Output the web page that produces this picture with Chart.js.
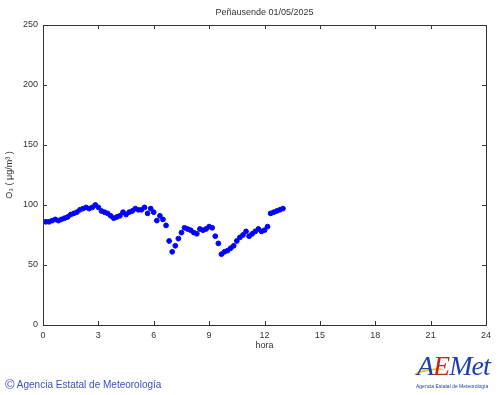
<!DOCTYPE html>
<html>
<head>
<meta charset="utf-8">
<script src="https://cdn.jsdelivr.net/npm/chart.js@4.4.1/dist/chart.umd.min.js"></script>
<style>
  html, body { margin: 0; padding: 0; background: #fff; }
  #wrap { position: relative; width: 500px; height: 395px; overflow: hidden; }
  #chart { position: absolute; left: 0; top: 0; }
  .footer {
    position: absolute; left: 5px; top: 377px;
    font: 10px "Liberation Sans", Arial, sans-serif; color: #3a4fc4;
  }
  .footer .c { font-size: 13px; vertical-align: -1px; }
  .logo { position: absolute; left: 414px; top: 350px; width: 86px; height: 45px; }
  .logo .word {
    position: absolute; left: 3px; top: 0; font: italic 28px "Liberation Serif", serif;
    letter-spacing: -1px; line-height: 32px;
  }
  .logo .a, .logo .m { color: #1f3fae; }
  .logo .e { color: #c8261d; }
  .logo .sub {
    position: absolute; left: 2px; top: 33px; font: 5px "Liberation Sans", Arial, sans-serif;
    color: #1f3fae; white-space: nowrap;
  }
  .logo .swoosh {
    position: absolute; left: 0px; top: 19px; width: 30px; height: 6px;
    border-top: 2px solid #f2c21b; border-radius: 50% 50% 0 0; transform: rotate(-10deg);
  }
</style>
</head>
<body>
<div id="wrap">
  <canvas id="chart" width="500" height="395"></canvas>
  <div class="footer"><span class="c">©</span> Agencia Estatal de Meteorología</div>
  <div class="logo">
    <div class="swoosh"></div>
    <div class="word"><span class="a">A</span><span class="e">E</span><span class="m">Met</span></div>
    <div class="sub">Agencia Estatal de Meteorología</div>
  </div>
</div>
<script>
const title = 'Peñausende 01/05/2025';
const xTitle = 'hora';
const yTitle = 'O₃ ( μg/m³ )';

// O3 every 10 minutes from 00:00 to 13:00
const o3Values = [
  86, 86, 86, 87, 88, 87, 88, 89, 90, 92, 93, 94,
  96, 97, 98, 97, 98, 100, 98, 95, 94, 93, 91, 89,
  90, 91, 94, 92, 94, 95, 97, 96, 96, 98, 93, 97,
  94, 87, 91, 88, 83, 70, 61, 66, 72, 77, 81, 80,
  79, 77, 76, 80, 79, 80, 82, 81, 74, 68, 59, 61,
  62, 64, 66, 70, 73, 75, 78, 74, 76, 78, 80, 78,
  79, 82, 93, 94, 95, 96, 97,
];
const xTicks = [0, 3, 6, 9, 12, 15, 18, 21, 24];
const yTicks = [0, 50, 100, 150, 200, 250];

const points = o3Values.map((v, i) => ({ x: i / 6, y: v }));

const FONT = '"Liberation Sans", Arial, sans-serif';
const INK = '#333';

// frame, inward ticks, title and rotated axis title
const framePlugin = {
  id: 'frame',
  afterDraw(chart) {
    const { ctx, chartArea: a, scales } = chart;
    ctx.save();
    ctx.strokeStyle = INK;
    ctx.lineWidth = 1;
    ctx.strokeRect(Math.round(a.left) + 0.5, Math.round(a.top) + 0.5,
      Math.round(a.right - a.left), Math.round(a.bottom - a.top));
    ctx.beginPath();
    xTicks.forEach((t) => {
      const px = Math.round(scales.x.getPixelForValue(t)) + 0.5;
      ctx.moveTo(px, a.bottom); ctx.lineTo(px, a.bottom - 4);
      ctx.moveTo(px, a.top); ctx.lineTo(px, a.top + 4);
    });
    yTicks.forEach((t) => {
      const py = Math.round(scales.y.getPixelForValue(t)) + 0.5;
      ctx.moveTo(a.left, py); ctx.lineTo(a.left + 4, py);
      ctx.moveTo(a.right, py); ctx.lineTo(a.right - 4, py);
    });
    ctx.stroke();

    ctx.fillStyle = INK;
    ctx.font = '9px ' + FONT;
    ctx.textAlign = 'center';
    ctx.textBaseline = 'middle';
    ctx.fillText(title, (a.left + a.right) / 2, 13);
    ctx.fillText(xTitle, (a.left + a.right) / 2, 346);
    ctx.translate(10, (a.top + a.bottom) / 2);
    ctx.rotate(-Math.PI / 2);
    ctx.fillText(yTitle, 0, 0);
    ctx.restore();
  },
};

new Chart(document.getElementById('chart'), {
  type: 'scatter',
  data: {
    datasets: [{
      data: points,
      backgroundColor: '#0000ff',
      borderColor: '#0000ff',
      pointRadius: 2.4,
      pointHoverRadius: 2.4,
      showLine: false,
    }],
  },
  options: {
    responsive: false,
    animation: false,
    events: [],
    layout: { padding: { top: 25, right: 14, bottom: 45, left: 0 } },
    plugins: { legend: { display: false }, tooltip: { enabled: false } },
    scales: {
      x: {
        type: 'linear',
        min: 0,
        max: 24,
        afterBuildTicks: (s) => { s.ticks = xTicks.map((v) => ({ value: v })); },
        afterFit: (s) => { s.height = 25; },
        grid: { display: false, drawTicks: false },
        border: { display: false },
        ticks: { color: INK, font: { size: 9, family: FONT }, padding: 5, maxRotation: 0 },
      },
      y: {
        min: 0,
        max: 250,
        afterBuildTicks: (s) => { s.ticks = yTicks.map((v) => ({ value: v })); },
        afterFit: (s) => { s.width = 43; },
        grid: { display: false, drawTicks: false },
        border: { display: false },
        ticks: { color: INK, font: { size: 9, family: FONT }, padding: 5 },
      },
    },
  },
  plugins: [framePlugin],
});
</script>
</body>
</html>
